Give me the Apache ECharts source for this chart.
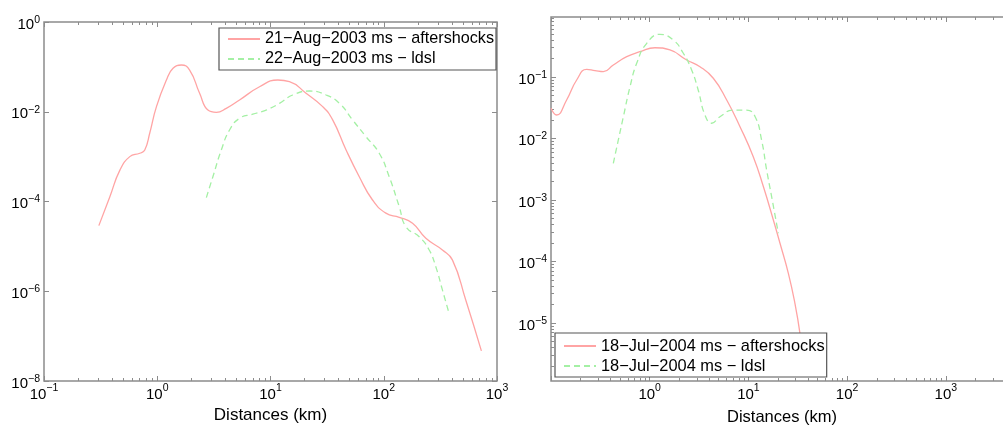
<!DOCTYPE html>
<html><head><meta charset="utf-8">
<script src="https://cdn.jsdelivr.net/npm/echarts@6/dist/echarts.min.js"></script>
<style>html,body{margin:0;padding:0;background:#fff}#c{width:1003px;height:426px}</style>
</head><body><div id="c"></div><script>
// ---- Data ----
const LEFT_AFTER_X = [0.305,0.3815,0.468,0.572,0.701,0.776,0.859,0.984,1.205,1.378,1.633,1.932,2.366,2.803,3.324,4.07,5.33,8.0,11.6,14.7,20.6,28.9,35.4,46.5,60.8,79.6,104.4,137,179.6,235.5,329.6,403.7,529.7,728];
const LEFT_AFTER_Y = [2.9e-5,1.28e-4,5.0e-4,1.0e-3,1.19e-3,1.41e-3,3.36e-3,1.30e-2,5.1e-2,9.3e-2,0.110,8.5e-2,2.58e-2,1.09e-2,9.7e-3,1.19e-2,1.83e-2,3.6e-2,5.1e-2,4.7e-2,2.58e-2,1.30e-2,6.6e-3,1.41e-3,3.57e-4,1.08e-4,5.5e-5,4.45e-5,3.27e-5,1.51e-5,8.3e-6,5.0e-6,6.4e-7,4.7e-8];
const LEFT_LDSL_X = [2.714,3.10,3.68,4.35,5.33,6.98,9.16,12.0,15.7,22.1,31.0,40.6,53.1,69.7,91.2,111.7,137,157,205.6,252,288.4,329.6,377.6];
const LEFT_LDSL_Y = [1.22e-4,3.57e-4,1.41e-3,3.92e-3,7.15e-3,8.8e-3,1.09e-2,1.54e-2,2.36e-2,2.90e-2,2.36e-2,1.54e-2,6.55e-3,2.78e-3,1.19e-3,3.57e-4,7.7e-5,2.74e-5,1.64e-5,8.3e-6,3.5e-6,1.07e-6,3.2e-7];
const RIGHT_AFTER_X = [0.1,0.114,0.144,0.182,0.230,0.279,0.339,0.428,0.585,0.797,1.13,1.606,2.37,3.23,4.41,6.03,8.22,11.2,14.2,17.9,20.9,25.4,29.6,33.3,35.7];
const RIGHT_AFTER_Y = [0.031,0.0241,0.0423,0.0894,0.133,0.127,0.122,0.157,0.214,0.258,0.299,0.275,0.189,0.147,0.0953,0.0423,0.01556,5.06e-3,1.64e-3,4.73e-4,1.98e-4,6.43e-5,2.09e-5,6.8e-6,2.5e-6];
const RIGHT_LDSL_X = [0.428,0.481,0.541,0.632,0.738,0.933,1.27,1.73,2.19,2.66,3.10,3.63,4.25,5.15,7.03,9.61,11.7,13.6,15.3,17.2,20.1];
const RIGHT_LDSL_Y = [3.95e-3,9.46e-3,0.0226,0.0695,0.167,0.353,0.494,0.400,0.243,0.130,0.0615,0.0241,0.0177,0.0226,0.0290,0.0290,0.0226,9.46e-3,3.08e-3,1.13e-3,2.88e-4];

const LEFT_NAMES = ['21\u2212Aug\u22122003 ms \u2212 aftershocks', '22\u2212Aug\u22122003 ms \u2212 ldsl'];
const RIGHT_NAMES = ['18\u2212Jul\u22122004 ms \u2212 aftershocks', '18\u2212Jul\u22122004 ms \u2212 ldsl'];
const X_NAME = 'Distances (km)';

const LEFT_X_RANGE = [0.1, 1000];
const LEFT_Y_RANGE = [1e-8, 1];
const RIGHT_X_RANGE = [0.1, 10000];
const RIGHT_Y_RANGE = [1.14e-6, 0.945];

const LEFT_X_LABELS = [0.1, 1, 10, 100, 1000];
const LEFT_Y_LABELS = [1e-8, 1e-6, 1e-4, 1e-2, 1];
const RIGHT_X_LABELS = [1, 10, 100, 1000];
const RIGHT_Y_LABELS = [1e-5, 1e-4, 1e-3, 1e-2, 1e-1];
const RIGHT_X_MAJOR = [0.1, 1, 10, 100, 1000, 10000];
const RIGHT_Y_MAJOR = [1e-5, 1e-4, 1e-3, 1e-2, 1e-1];

// ---- Styling ----
const FONT = '"Liberation Sans", Arial, Helvetica, sans-serif';
const AX = '#8c8c8c';
const RED = '#ffa4a4';
const GREEN = '#a4f0a4';

function zip(xs, ys){ return xs.map((x,i)=>[x, ys[i]]); }
function sup(v){ const e = Math.round(Math.log10(v)); return '{b|10}{s|' + (e < 0 ? '\u2212' + (-e) : String(e)) + '}'; }
function minor(lo, hi){
  const out = [];
  for (let d = Math.floor(Math.log10(lo)); d < Math.ceil(Math.log10(hi)); d++) {
    for (let k = 2; k <= 9; k++) { const v = k * Math.pow(10, d); if (v > lo * 1.0001 && v < hi * 0.9999) out.push(v); }
  }
  return out;
}
const richX = {
  b: {fontSize: 15, lineHeight: 15, padding: [8.5,0,0,0], fontFamily: FONT, color: '#000'},
  s: {fontSize: 10.5, lineHeight: 10, verticalAlign: 'top', fontFamily: FONT, color: '#000'}
};
const richY = {
  b: {fontSize: 15, lineHeight: 15, padding: [5,0,0,0], fontFamily: FONT, color: '#000'},
  s: {fontSize: 10.5, lineHeight: 10, verticalAlign: 'top', fontFamily: FONT, color: '#000'}
};

function ax(g, pos, range, ticks, len, labels, rich, extra){
  const a = {
    type: 'log', logBase: 10, gridIndex: g, position: pos, min: range[0], max: range[1],
    axisLine: {show: false, onZero: false}, splitLine: {show: false}, minorTick: {show: false},
    axisTick: {show: ticks.length > 0, inside: true, length: len, customValues: ticks, lineStyle: {color: AX, width: 1}},
    axisLabel: labels ? {show: true, customValues: labels, formatter: sup, rich: rich, margin: (pos === 'bottom' ? 2 : 4)} : {show: false}
  };
  return Object.assign(a, extra || {});
}

const xAxes = [
  ax(0, 'bottom', LEFT_X_RANGE, LEFT_X_LABELS, 5, LEFT_X_LABELS, richX, {
    name: X_NAME, nameLocation: 'middle', nameGap: 24,
    nameTextStyle: {fontSize: 17, color: '#000', fontFamily: FONT}}),
  ax(0, 'bottom', LEFT_X_RANGE, minor(0.1, 1000), 3),
  ax(0, 'top', LEFT_X_RANGE, LEFT_X_LABELS, 5),
  ax(0, 'top', LEFT_X_RANGE, minor(0.1, 1000), 3),
  ax(1, 'bottom', RIGHT_X_RANGE, RIGHT_X_MAJOR, 5, RIGHT_X_LABELS, richX, {
    name: X_NAME, nameLocation: 'middle', nameGap: 28,
    nameTextStyle: {fontSize: 16.5, color: '#000', fontFamily: FONT, padding: [0, 31.5, 0, 0]}}),
  ax(1, 'bottom', RIGHT_X_RANGE, minor(0.1, 10000), 3),
  ax(1, 'top', RIGHT_X_RANGE, RIGHT_X_MAJOR, 5),
  ax(1, 'top', RIGHT_X_RANGE, minor(0.1, 10000), 3)
];
const yAxes = [
  ax(0, 'left', LEFT_Y_RANGE, LEFT_Y_LABELS, 5, LEFT_Y_LABELS, richY),
  ax(0, 'right', LEFT_Y_RANGE, LEFT_Y_LABELS, 5),
  ax(1, 'left', RIGHT_Y_RANGE, RIGHT_Y_MAJOR, 5, RIGHT_Y_LABELS, richY),
  ax(1, 'left', RIGHT_Y_RANGE, minor(1.14e-6, 0.945), 3),
  ax(1, 'right', RIGHT_Y_RANGE, RIGHT_Y_MAJOR, 5),
  ax(1, 'right', RIGHT_Y_RANGE, minor(1.14e-6, 0.945), 3)
];

function lineSeries(name, xi, yi, data, color, dashed){
  return {
    type: 'line', name: name, xAxisIndex: xi, yAxisIndex: yi, data: data,
    showSymbol: false, symbol: 'none', smooth: 0.5, clip: true, z: 2,
    lineStyle: {color: color, width: 1.3, type: dashed ? [6, 4] : 'solid'},
    itemStyle: {color: color}
  };
}

function legendBox(names, left, top, fs, pad){
  return {
    data: names, orient: 'vertical', left: left, top: top, itemWidth: 32, itemHeight: 16, itemGap: 4,
    padding: pad, borderColor: '#555', borderWidth: 1.2, backgroundColor: '#fff', selectedMode: false,
    itemStyle: {opacity: 0, borderWidth: 0},
    textStyle: {fontSize: fs, color: '#000', fontFamily: FONT, lineHeight: 16}
  };
}

const chart = echarts.init(document.getElementById('c'));
chart.setOption({
  animation: false,
  backgroundColor: '#fff',
  grid: [
    {left: 44, top: 22, width: 453, height: 359, show: true, borderColor: AX, borderWidth: 1.5, backgroundColor: 'transparent', containLabel: false, outerBoundsMode: 'none'},
    {left: 551, top: 17, width: 493.5, height: 364, show: true, borderColor: AX, borderWidth: 1.5, backgroundColor: 'transparent', containLabel: false, outerBoundsMode: 'none'}
  ],
  xAxis: xAxes,
  yAxis: yAxes,
  legend: [
    legendBox(LEFT_NAMES, 219, 28, 16.2, [3, 2, 3, 8]),
    legendBox(RIGHT_NAMES, 555, 333, 16.4, [5, 2, 3, 8])
  ],
  series: [
    lineSeries(LEFT_NAMES[0], 0, 0, zip(LEFT_AFTER_X, LEFT_AFTER_Y), RED, false),
    lineSeries(LEFT_NAMES[1], 0, 0, zip(LEFT_LDSL_X, LEFT_LDSL_Y), GREEN, true),
    lineSeries(RIGHT_NAMES[0], 4, 2, zip(RIGHT_AFTER_X, RIGHT_AFTER_Y), RED, false),
    lineSeries(RIGHT_NAMES[1], 4, 2, zip(RIGHT_LDSL_X, RIGHT_LDSL_Y), GREEN, true)
  ]
});
</script></body></html>
